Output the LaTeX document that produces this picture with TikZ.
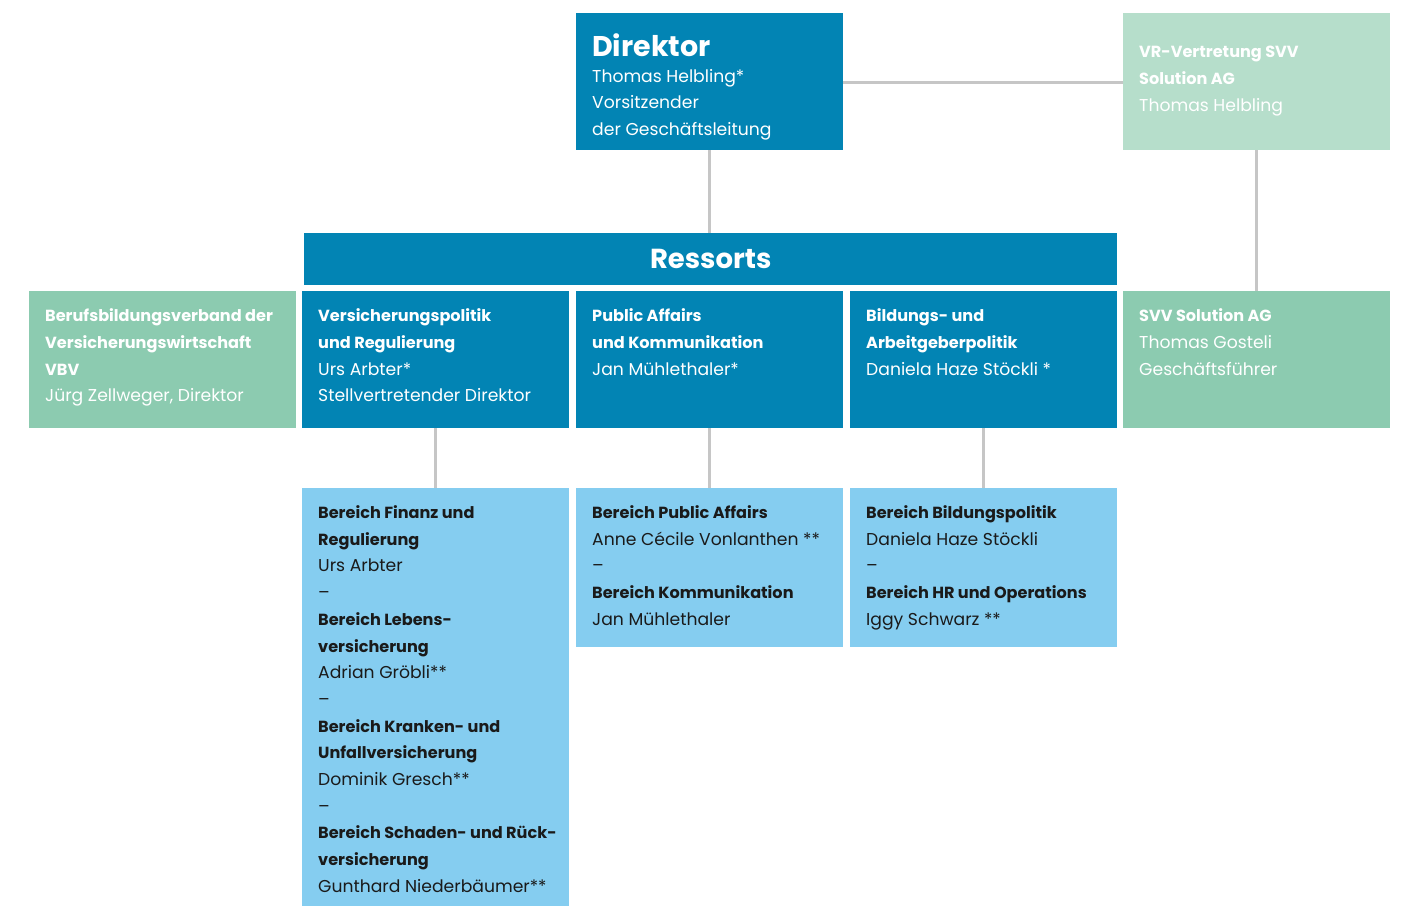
\documentclass[tikz,border=0pt]{standalone}
\usepackage{fontspec}
\setmainfont{Poppins}
\definecolor{dblue}{RGB}{2,132,180}
\definecolor{lblue}{RGB}{133,205,240}
\definecolor{mgreen}{RGB}{140,203,176}
\definecolor{lgreen}{RGB}{182,222,203}
\definecolor{conncol}{RGB}{198,198,198}
\definecolor{ink}{RGB}{26,26,26}
\newcommand{\bt}[2]{\parbox[t]{#1pt}{\fontsize{17.2}{26.7}\selectfont\raggedright #2}}
\newcommand{\hb}[1]{{\fontsize{16.1}{26.7}\selectfont\bfseries #1}}
\begin{document}
\begin{tikzpicture}[x=1pt,y=-1pt,
  boxbase/.style={draw=none,anchor=north west,inner sep=0pt,minimum width=267pt},
  darkbox/.style={boxbase,fill=dblue},
  greenbox/.style={boxbase,fill=mgreen},
  palebox/.style={boxbase,fill=lgreen},
  lightbox/.style={boxbase,fill=lblue},
  wtxt/.style={anchor=base west,inner sep=0pt,text=white},
  ktxt/.style={anchor=base west,inner sep=0pt,text=ink},
  conn/.style={draw=conncol,line width=3pt}]
\useasboundingbox (0,0) rectangle (1404,906);
% boxes
\node[darkbox,minimum height=137pt] (dir) at (576,13) {};
\node[palebox,minimum height=137pt] (vr) at (1123,13) {};
\node[boxbase,fill=dblue,minimum width=813pt,minimum height=52pt] (res) at (304,233) {};
\node[greenbox,minimum height=137pt] (vbv) at (29,291) {};
\node[darkbox,minimum height=137pt] (vp) at (302,291) {};
\node[darkbox,minimum height=137pt] (pa) at (576,291) {};
\node[darkbox,minimum height=137pt] (bp) at (850,291) {};
\node[greenbox,minimum height=137pt] (svv) at (1123,291) {};
\node[lightbox,minimum height=418pt] (fin) at (302,488) {};
\node[lightbox,minimum height=159pt] (pub) at (576,488) {};
\node[lightbox,minimum height=159pt] (bil) at (850,488) {};
% connectors
\draw[conn] (dir.south) -- (res.north -| dir.south);
\draw[conn] (dir.east |- 0,82) -- (vr.west |- 0,82);
\draw[conn] (vr.south) -- (svv.north);
\draw[conn] (vp.south) -- (fin.north);
\draw[conn] (pa.south) -- (pub.north);
\draw[conn] (bp.south) -- (bil.north);
% texts
\node[wtxt,font=\fontsize{28.5}{30}\selectfont\bfseries] (dirT) at (592,56) {Direktor};
\node[wtxt] (dirS) at (592,82) {\bt{240}{Thomas Helbling*\\Vorsitzender\\der Geschäftsleitung}};
\node[wtxt] (vrT) at (1139,57.7) {\bt{250}{\hb{VR-Vertretung SVV}\\\hb{Solution AG}\\Thomas Helbling}};
\node[text=white,inner sep=0pt,font=\fontsize{27.5}{30}\selectfont\bfseries] (resT) at (res.center) {Ressorts};
\node[wtxt] (vbvT) at (45,321.7) {\bt{250}{\hb{Berufsbildungsverband der}\\\hb{Versicherungswirtschaft}\\\hb{VBV}\\Jürg Zellweger, Direktor}};
\node[wtxt] (vpT) at (318,321.7) {\bt{250}{\hb{Versicherungspolitik}\\\hb{und Regulierung}\\Urs Arbter*\\Stellvertretender Direktor}};
\node[wtxt] (paT) at (592,321.7) {\bt{250}{\hb{Public Affairs}\\\hb{und Kommunikation}\\Jan Mühlethaler*}};
\node[wtxt] (bpT) at (866,321.7) {\bt{250}{\hb{Bildungs- und}\\\hb{Arbeitgeberpolitik}\\Daniela Haze Stöckli *}};
\node[wtxt] (svvT) at (1139,321.7) {\bt{250}{\hb{SVV Solution AG}\\Thomas Gosteli\\Geschäftsführer}};
\node[ktxt] (finT) at (318,518.5) {\bt{250}{\hb{Bereich Finanz und}\\\hb{Regulierung}\\Urs Arbter\\–\\\hb{Bereich Lebens-}\\\hb{versicherung}\\Adrian Gröbli**\\–\\\hb{Bereich Kranken- und}\\\hb{Unfallversicherung}\\Dominik Gresch**\\–\\\hb{Bereich Schaden- und Rück-}\\\hb{versicherung}\\Gunthard Niederbäumer**}};
\node[ktxt] (pubT) at (592,518.5) {\bt{250}{\hb{Bereich Public Affairs}\\Anne Cécile Vonlanthen **\\–\\\hb{Bereich Kommunikation}\\Jan Mühlethaler}};
\node[ktxt] (bilT) at (866,518.5) {\bt{250}{\hb{Bereich Bildungspolitik}\\Daniela Haze Stöckli\\–\\\hb{Bereich HR und Operations}\\Iggy Schwarz **}};
\end{tikzpicture}
\end{document}
